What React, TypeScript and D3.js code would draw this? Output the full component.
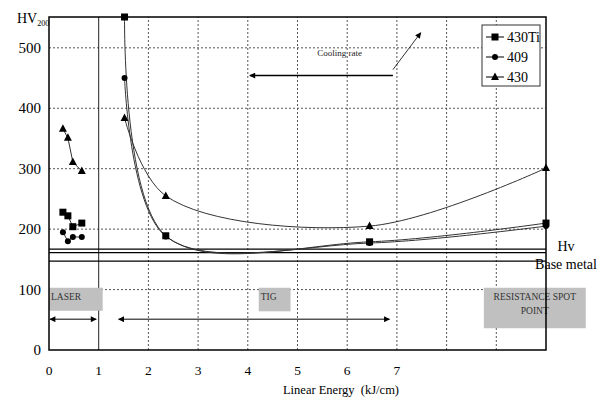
import React, { useRef, useEffect } from 'react';
import * as d3 from 'd3';

// Linear energy (kJ/cm) and hardness HV200
const laserEnergy = [0.28, 0.38, 0.48, 0.66];
const mainEnergy = [1.52, 2.35, 6.45, 10];

const laser430Ti = [228, 222, 204, 210];
const laser409 = [195, 180, 187, 187];
const laser430 = [366, 351, 311, 296];

const main430Ti = [551, 189, 179, 210];
const main409 = [450, 188, 177, 205];
const main430 = [384, 255, 205, 301];

const baseMetalLines = [167, 161, 147];

const yTicks = [0, 100, 200, 300, 400, 500];
const xGrid = [1, 2, 3, 4, 5, 6, 7, 8, 9];
const xTickLabels = ['0', '1', '2', '3', '4', '5', '6', '7'];

const seriesNames = ['430Ti', '409', '430'];
const seriesMarkers = ['square', 'circle', 'triangle'];

const FONT = "'Liberation Serif', 'DejaVu Serif', serif";

export default function App() {
  const svgRef = useRef<SVGSVGElement>(null);

  useEffect(() => {
    if (!svgRef.current) return;
    const width = 600;
    const height = 399;
    const svg = d3.select(svgRef.current);
    svg.selectAll('*').remove();
    svg.attr('width', width).attr('height', height);

    const margin = { top: 17, right: 54, bottom: 49, left: 49 };
    const x = d3.scaleLinear().domain([0, 10]).range([margin.left, width - margin.right]);
    const y = d3.scaleLinear().domain([0, 551]).range([height - margin.bottom, margin.top]);

    const addText = (parent: any, tx: number, ty: number, txt: string, size: number, anchor = 'start') =>
      parent.append('text')
        .attr('x', tx).attr('y', ty)
        .attr('text-anchor', anchor)
        .attr('font-family', FONT)
        .attr('font-size', `${size}px`)
        .attr('fill', '#000')
        .text(txt);

    svg.append('rect').attr('width', width).attr('height', height).attr('fill', '#fff');

    // gridlines
    const grid = svg.append('g');
    yTicks.filter(t => t > 0).forEach(t => {
      grid.append('line')
        .attr('x1', x(0)).attr('x2', x(10)).attr('y1', y(t)).attr('y2', y(t))
        .attr('stroke', '#555').attr('stroke-dasharray', '2,2').attr('stroke-width', 1);
    });
    xGrid.forEach(t => {
      grid.append('line')
        .attr('x1', x(t)).attr('x2', x(t)).attr('y1', y(0)).attr('y2', y(551))
        .attr('stroke', t === 1 ? '#222' : '#555')
        .attr('stroke-dasharray', t === 1 ? null : '2,2')
        .attr('stroke-width', 1);
    });

    // base metal hardness lines
    baseMetalLines.forEach(v => {
      svg.append('line')
        .attr('x1', x(0)).attr('x2', x(10)).attr('y1', y(v)).attr('y2', y(v))
        .attr('stroke', '#000').attr('stroke-width', 1.3);
    });

    // gray boxes
    const boxes = [
      { x0: 0, x1: 1.08, y0: 65, y1: 103, lines: ['LASER'], anchor: 'start' },
      { x0: 4.22, x1: 4.86, y0: 64, y1: 103, lines: ['TIG'], anchor: 'start' },
      { x0: 8.75, x1: 10.8, y0: 36, y1: 103, lines: ['RESISTANCE SPOT', 'POINT'], anchor: 'middle' },
    ];
    boxes.forEach(b => {
      svg.append('rect')
        .attr('x', x(b.x0)).attr('y', y(b.y1))
        .attr('width', x(b.x1) - x(b.x0)).attr('height', y(b.y0) - y(b.y1))
        .attr('fill', '#c0c0c0');
      b.lines.forEach((l, i) => {
        addText(svg, b.anchor === 'middle' ? (x(b.x0) + x(b.x1)) / 2 : x(b.x0) + 2,
          y(b.y1) + 12 + i * 14, l, 9.5, b.anchor).attr('fill', '#333');
      });
    });

    // arrow markers
    const defs = svg.append('defs');
    defs.append('marker')
      .attr('id', 'arr').attr('viewBox', '0 0 10 10').attr('refX', 9).attr('refY', 5)
      .attr('markerWidth', 7).attr('markerHeight', 6).attr('orient', 'auto-start-reverse')
      .attr('markerUnits', 'userSpaceOnUse')
      .append('path').attr('d', 'M0,0 L10,5 L0,10 z').attr('fill', '#000');

    const arrows = [
      { x0: 0.02, y0: 51, x1: 0.95, y1: 51, both: true, w: 1 },
      { x0: 1.4, y0: 51, x1: 6.85, y1: 51, both: true, w: 1 },
      { x0: 6.92, y0: 454, x1: 4.04, y1: 454, both: false, w: 1.5 },
      { x0: 6.92, y0: 464, x1: 7.48, y1: 525, both: false, w: 0.8 },
    ];
    arrows.forEach(a => {
      svg.append('line')
        .attr('x1', x(a.x0)).attr('y1', y(a.y0)).attr('x2', x(a.x1)).attr('y2', y(a.y1))
        .attr('stroke', '#000').attr('stroke-width', a.w)
        .attr('marker-end', 'url(#arr)')
        .attr('marker-start', a.both ? 'url(#arr)' : null);
    });
    addText(svg, x(5.85), y(487), 'Cooling rate', 9, 'middle').attr('fill', '#222');

    // data lines
    const lineGen = d3.line<[number, number]>().x(d => x(d[0])).y(d => y(d[1]));
    const smooth = d3.line<[number, number]>().x(d => x(d[0])).y(d => y(d[1]))
      .curve(d3.curveCatmullRom.alpha(0.5));

    const mains = [main430Ti, main409, main430];
    const lasers = [laser430Ti, laser409, laser430];

    mains.forEach(vals => {
      svg.append('path')
        .datum(mainEnergy.map((e, i) => [e, vals[i]] as [number, number]))
        .attr('d', smooth).attr('fill', 'none').attr('stroke', '#333').attr('stroke-width', 1);
    });
    lasers.forEach(vals => {
      svg.append('path')
        .datum(laserEnergy.map((e, i) => [e, vals[i]] as [number, number]))
        .attr('d', lineGen).attr('fill', 'none').attr('stroke', '#333').attr('stroke-width', 1);
    });

    const drawMarker = (g: any, type: string, cx: number, cy: number) => {
      if (type === 'square') {
        g.append('rect').attr('x', cx - 3.5).attr('y', cy - 3.5).attr('width', 7).attr('height', 7).attr('fill', '#000');
      } else if (type === 'circle') {
        g.append('circle').attr('cx', cx).attr('cy', cy).attr('r', 3).attr('fill', '#000');
      } else {
        g.append('path').attr('d', `M${cx},${cy - 4.5} L${cx + 4},${cy + 3} L${cx - 4},${cy + 3} Z`).attr('fill', '#000');
      }
    };

    const markerG = svg.append('g');
    seriesMarkers.forEach((m, si) => {
      mainEnergy.forEach((e, i) => drawMarker(markerG, m, x(e), y(mains[si][i])));
      laserEnergy.forEach((e, i) => drawMarker(markerG, m, x(e), y(lasers[si][i])));
    });

    // frame
    svg.append('rect')
      .attr('x', x(0)).attr('y', y(551)).attr('width', x(10) - x(0)).attr('height', y(0) - y(551))
      .attr('fill', 'none').attr('stroke', '#000').attr('stroke-width', 1.5);

    // y ticks
    yTicks.forEach(t => addText(svg, 41, y(t) + 5, String(t), 15, 'end'));
    const hv = addText(svg, 17, 23, '', 14);
    hv.append('tspan').text('HV');
    hv.append('tspan').attr('font-size', '8px').attr('dy', 3).text('200');

    // x ticks
    xTickLabels.forEach((l, i) => addText(svg, x(i), 375, l, 13.5, 'middle'));
    addText(svg, 341, 394, 'Linear Energy\u00a0\u00a0(kJ/cm)', 12.5, 'middle');

    // Hv / Base metal
    addText(svg, 566, 251, 'Hv', 14, 'middle');
    addText(svg, 566, 269, 'Base metal', 14, 'middle');

    // legend
    const lg = svg.append('g').attr('transform', 'translate(482,25)');
    lg.append('rect').attr('width', 58).attr('height', 61).attr('fill', '#fff')
      .attr('stroke', '#333').attr('stroke-width', 1);
    seriesNames.forEach((n, i) => {
      const ly = 12 + i * 20;
      lg.append('line').attr('x1', 4).attr('x2', 22).attr('y1', ly).attr('y2', ly)
        .attr('stroke', '#000').attr('stroke-width', 1);
      drawMarker(lg, seriesMarkers[i], 13, ly);
      addText(lg, 25, ly + 5, n, 14);
    });
  }, []);

  return (
    <div style={{ position: 'absolute', left: 0, top: 0 }}>
      <svg ref={svgRef} />
    </div>
  );
}
